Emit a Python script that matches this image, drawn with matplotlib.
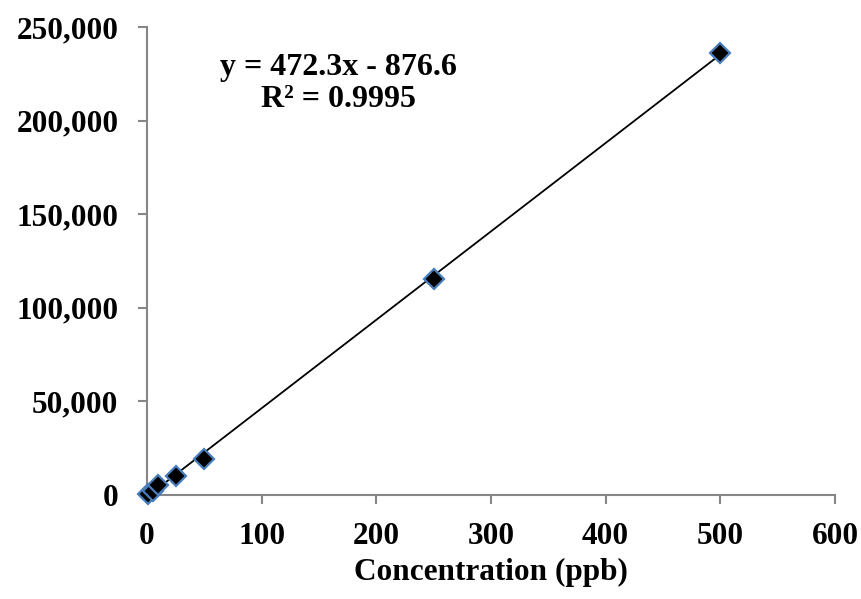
import matplotlib
matplotlib.use("Agg")
import matplotlib.pyplot as plt
import numpy as np

# Data
concentration = [1, 5, 10, 25, 50, 250, 500]
response = [300, 2000, 5200, 10200, 19500, 115500, 236300]
slope = 472.3
intercept = -876.6
r_squared = 0.9995
x_ticks = [0, 100, 200, 300, 400, 500, 600]
y_ticks = [0, 50000, 100000, 150000, 200000, 250000]
y_tick_labels = ["0", "50,000", "100,000", "150,000", "200,000", "250,000"]
x_label = "Concentration (ppb)"

plt.rcParams['font.family'] = ['Liberation Serif', 'DejaVu Serif']
plt.rcParams['font.weight'] = 'bold'

fig = plt.figure(figsize=(8.62, 5.99), dpi=100)
ax = fig.add_axes([0.1705, 0.1736, 0.7982, 0.7814])

# Trendline over the data range
xl = np.array([min(concentration), max(concentration)])
ax.plot(xl, slope * xl + intercept, color='black', lw=1.3, zorder=2)

ax.plot(concentration, response, linestyle='none', marker='D', ms=10.5,
        markerfacecolor='black', markeredgecolor='#4a7ebb', mew=1.6,
        zorder=3, clip_on=False)

ax.set_xlim(0, 600)
ax.set_ylim(0, 250000)
ax.set_xticks(x_ticks)
ax.set_xticklabels([str(t) for t in x_ticks])
ax.set_yticks(y_ticks)
ax.set_yticklabels(y_tick_labels)

for s in ['top', 'right']:
    ax.spines[s].set_visible(False)
for s in ['left', 'bottom']:
    ax.spines[s].set_color('#868686')
    ax.spines[s].set_linewidth(1.5)

ax.tick_params(axis='both', direction='out', length=6.5, width=1.5,
               color='#868686', labelsize=22.5, labelcolor='black')
ax.tick_params(axis='x', pad=13)
ax.tick_params(axis='y', pad=14)
for lab in ax.get_xticklabels() + ax.get_yticklabels():
    lab.set_fontweight('bold')

ax.set_xlabel(x_label, fontsize=22.5, fontweight='bold', labelpad=5)

ax.text(0.278, 0.879, f"y = {slope}x - {abs(intercept)}\nR\u00b2 = {r_squared}",
        transform=ax.transAxes, ha='center', va='center', fontsize=23,
        fontweight='bold', linespacing=1.15)

fig.savefig('out.png', dpi=100)
